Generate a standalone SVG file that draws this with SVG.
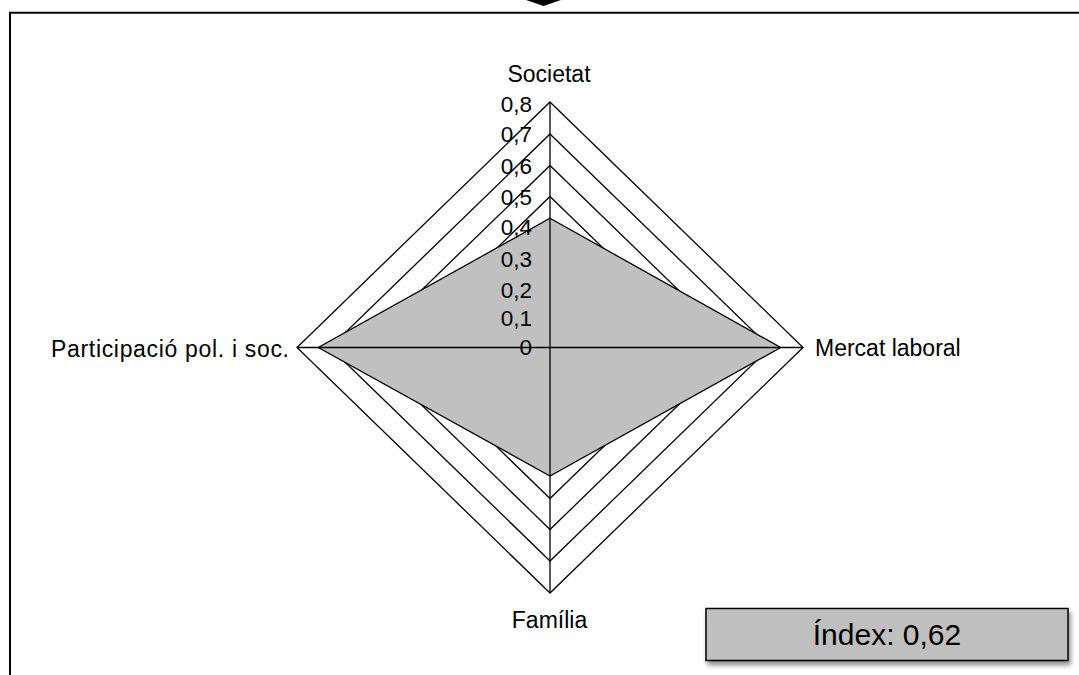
<svg xmlns="http://www.w3.org/2000/svg" width="1079" height="675" viewBox="0 0 1079 675">
  <style>
    .ring { fill: none; stroke: #000; stroke-width: 1.3; stroke-linejoin: miter; }
    .axis { fill: none; stroke: #000; stroke-width: 1.3; }
    .tick { font-family: "Liberation Sans", Arial, sans-serif; font-size: 22.5px; fill: #000; text-anchor: end; }
    .cat { font-family: "Liberation Sans", Arial, sans-serif; font-size: 23px; fill: #000; }
    .frame { fill: none; stroke: #000; stroke-width: 2; }
  </style>
  <defs>
    <filter id="shadow" x="-10%" y="-30%" width="130%" height="170%">
      <feGaussianBlur in="SourceAlpha" stdDeviation="2.5"/>
      <feOffset dx="2" dy="4" result="b"/>
      <feComponentTransfer><feFuncA type="linear" slope="0.45"/></feComponentTransfer>
      <feMerge><feMergeNode/><feMergeNode in="SourceGraphic"/></feMerge>
    </filter>
  </defs>
  <rect width="1079" height="675" fill="#fff"/>

  <g id="top-arrow">
    <polygon points="526,0 561,0 543.5,6" fill="#000"/>
  </g>

  <g id="frame">
    <polyline class="frame" points="10,675 10,12.8 1079,12.8"/>
  </g>

  <g id="grid">
    <polygon class="ring" points="550,317 581.4,347.5 550,378 518.6,347.5"/>
    <polygon class="ring" points="550,286.5 612.9,347.5 550,408.5 487.1,347.5"/>
    <polygon class="ring" points="550,256.5 643.8,347.5 550,438.5 456.2,347.5"/>
    <polygon class="ring" points="550,226.5 674.8,347.5 550,468.5 425.2,347.5"/>
    <polygon class="ring" points="550,196.5 705.7,347.5 550,498.5 394.3,347.5"/>
    <polygon class="ring" points="550,165.5 737.6,347.5 550,529.5 362.4,347.5"/>
    <polygon class="ring" points="550,134 770.1,347.5 550,561 329.9,347.5"/>
    <polygon class="ring" points="550,102 803,347.5 550,593 297,347.5"/>
  </g>

  <g id="series">
    <polygon points="550,218.3 780.7,347.5 550,476 318.3,347.5" fill="#C0C0C0" stroke="#000" stroke-width="1.3" stroke-linejoin="miter"/>
  </g>

  <g id="connectors">
    <line class="axis" x1="550" y1="102" x2="550" y2="593"/>
    <line class="axis" x1="297" y1="347.5" x2="803" y2="347.5"/>
  </g>

  <g id="tick-labels">
    <text class="tick" x="532" y="355">0</text>
    <text class="tick" x="532" y="326">0,1</text>
    <text class="tick" x="532" y="298">0,2</text>
    <text class="tick" x="532" y="266.5">0,3</text>
    <text class="tick" x="532" y="235">0,4</text>
    <text class="tick" x="532" y="205">0,5</text>
    <text class="tick" x="532" y="174">0,6</text>
    <text class="tick" x="532" y="142">0,7</text>
    <text class="tick" x="532" y="111.5">0,8</text>
  </g>

  <g id="node-societat">
    <text class="cat" x="549" y="82" text-anchor="middle">Societat</text>
  </g>
  <g id="node-mercat">
    <text class="cat" x="815" y="356">Mercat laboral</text>
  </g>
  <g id="node-familia">
    <text class="cat" x="549.5" y="627.5" text-anchor="middle">Família</text>
  </g>
  <g id="node-participacio">
    <text class="cat" x="51" y="356.5" textLength="238" lengthAdjust="spacing">Participació pol. i soc.</text>
  </g>

  <g id="node-index">
    <rect x="706" y="608.5" width="362" height="52" fill="#BFBFBF" stroke="#000" stroke-width="1.5" filter="url(#shadow)"/>
    <text x="887" y="645" text-anchor="middle" font-family="'Liberation Sans', Arial, sans-serif" font-size="30" fill="#000">Índex: 0,62</text>
  </g>
</svg>
